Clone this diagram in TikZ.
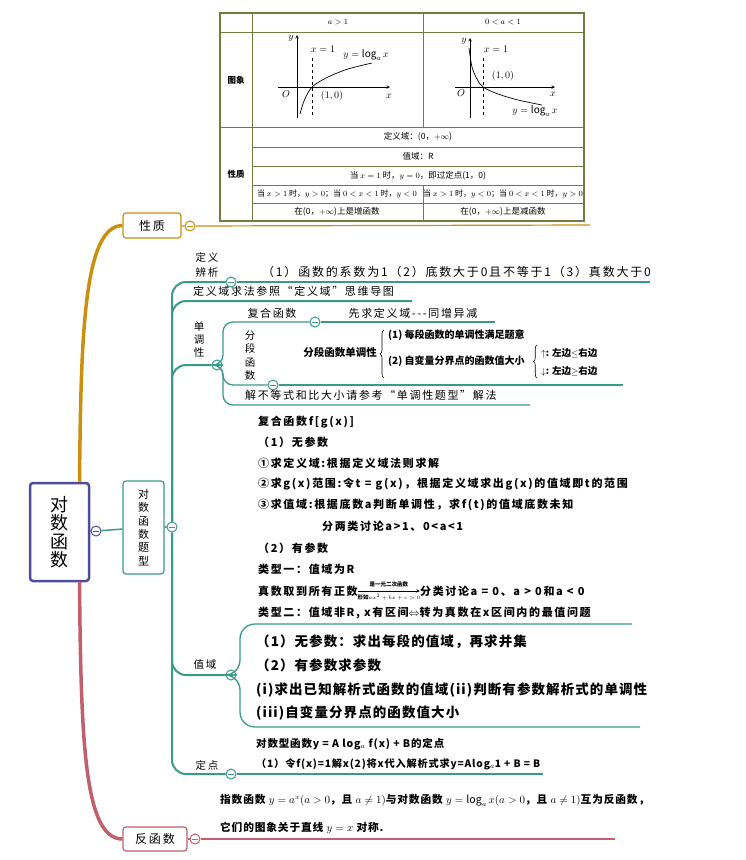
\documentclass[tikz,border=0pt]{standalone}
\usepackage{amsmath}
\usepackage{fontspec}
\setmainfont{Noto Sans CJK SC}
\newfontfamily\kai[LetterSpace=15]{Noto Sans CJK SC}
\newfontfamily\kaib[LetterSpace=8]{Noto Sans CJK SC}
\usetikzlibrary{arrows}
\usetikzlibrary{positioning}
\usetikzlibrary{decorations.pathreplacing}

\definecolor{tealb}{HTML}{3A9A8A}
\definecolor{goldb}{HTML}{C8900E}
\definecolor{redb}{HTML}{C0606C}
\definecolor{blueb}{HTML}{4E4E98}
\definecolor{gridc}{HTML}{6E7E40}

\tikzset{
  fold/.style={circle, draw=#1, fill=white, line width=1pt, minimum size=10pt, inner sep=0pt,
    path picture={\draw[#1, line width=1pt] ([xshift=-2.8pt]path picture bounding box.center) -- ([xshift=2.8pt]path picture bounding box.center);}},
  topicbox/.style={draw=#1, line width=1.2pt, rounded corners=3pt, fill=white, inner sep=0pt, align=center},
  branch/.style={tealb, line width=2pt, rounded corners=14pt},
  twig/.style={tealb, line width=1.3pt, rounded corners=10pt},
  tabtext/.style={font=\fontsize{8.5}{9}\selectfont, inner sep=0pt},
  leafnote/.style={anchor=west, inner sep=0pt, font=\kai\fontsize{11}{12}\selectfont},
  leafbold/.style={anchor=west, inner sep=0pt, font=\kai\bfseries\fontsize{11}{12}\selectfont},
}

\begin{document}
\begin{tikzpicture}[x=1pt, y=-1pt]
\useasboundingbox (0,0) rectangle (745,860);

% table of the two graphs
\draw[gridc, line width=1.2pt] (220,13) rectangle (584,221);
\begin{scope}[gridc, line width=0.7pt]
  \draw (220,32) -- (584,32);
  \draw (220,127) -- (584,127);
  \foreach \yy in {147,166,185,203} {\draw (252,\yy) -- (584,\yy);}
  \draw (252,13) -- (252,221);
  \draw (423,13) -- (423,127);
  \draw (423,185) -- (423,221);
\end{scope}
\node[tabtext] (hdA) at (338,22) {$a>1$};
\node[tabtext] (hdB) at (503,22) {$0<a<1$};
\node[tabtext, font=\bfseries\fontsize{8.5}{9}\selectfont] (rowImg) at (236,80) {图象};
\node[tabtext, font=\bfseries\fontsize{8.5}{9}\selectfont] (rowProp) at (236,174) {性质};
\node[tabtext] (pDom) at (418,137) {定义域：(0，$+\infty$)};
\node[tabtext] (pRan) at (418,156.5) {值域：R};
\node[tabtext] (pFix) at (418,175.5) {当 $x=1$ 时，$y=0$，即过定点(1，0)};
\node[tabtext, font=\fontsize{8}{9}\selectfont] (pSignA) at (337,194) {当 $x>1$ 时，$y>0$；当 $0<x<1$ 时，$y<0$};
\node[tabtext, font=\fontsize{8}{9}\selectfont] (pSignB) at (503,194) {当 $x>1$ 时，$y<0$；当 $0<x<1$ 时，$y>0$};
\node[tabtext] (pMonA) at (337,212) {在(0，$+\infty$)上是增函数};
\node[tabtext] (pMonB) at (503,212) {在(0，$+\infty$)上是减函数};

% graph a>1
\draw[->, >=stealth, line width=0.6pt] (297,118) -- (297,35);
\draw[->, >=stealth, line width=0.6pt] (278,87) -- (390,87);
\draw[dashed, line width=0.6pt] (312,58) -- (312,118);
\draw[line width=0.7pt] plot[smooth] coordinates {(300,114) (304,101) (312,87) (328,77) (348,69) (372,63)};
\node (gAy) at (291,38) {$y$};
\node (gAx) at (389,96) {$x$};
\node (gAo) at (286,94) {$O$};
\node (gAl) at (323,49) {$x=1$};
\node (gAf) at (366,55) {$y=\log_a x$};
\node (gAp) at (332,96) {$(1,0)$};

% graph 0<a<1
\draw[->, >=stealth, line width=0.6pt] (470,118) -- (470,38);
\draw[->, >=stealth, line width=0.6pt] (455,87) -- (555,87);
\draw[dashed, line width=0.6pt] (483,58) -- (483,118);
\draw[line width=0.7pt] plot[smooth] coordinates {(469,48) (472,67) (477,79) (483,87) (498,94) (518,100) (542,105)};
\node (gBy) at (464,41) {$y$};
\node (gBx) at (553,94) {$x$};
\node (gBo) at (461,93) {$O$};
\node (gBl) at (496,49) {$x=1$};
\node (gBf) at (535,111) {$y=\log_a x$};
\node (gBp) at (503,76) {$(1,0)$};

% main topics
\node[topicbox=blueb, line width=2.5pt, minimum width=59pt, minimum height=98pt,
      font=\fontsize{18}{18.5}\selectfont] (root) at (59.5,532) {对\\数\\函\\数};
\node[fold=blueb] (rootFold) at (96,531) {};
\node[topicbox=tealb, minimum width=41pt, minimum height=93pt,
      font=\fontsize{11}{13.4}\selectfont] (tiBox) at (143.5,527.5) {对\\数\\函\\数\\题\\型};
\node[fold=tealb] (tiFold) at (172,527) {};
\node[topicbox=goldb, minimum width=58pt, minimum height=25pt,
      font=\kai\fontsize{12}{12}\selectfont] (xzBox) at (152,225.5) {性质};
\node[fold=goldb] (xzFold) at (190,226) {};
\node[topicbox=redb, minimum width=64pt, minimum height=24pt,
      font=\kai\fontsize{12}{12}\selectfont] (ffBox) at (155,839) {反函数};
\node[fold=redb] (ffFold) at (195,839) {};
\coordinate (xzEnd) at (590,225);
\coordinate (ffEnd) at (615,839);

\draw[blueb, line width=1.5pt] (root) -- (rootFold);
\draw[tealb, line width=1.5pt] (rootFold) -- (tiBox);
\draw[goldb, line width=3.5pt] ([xshift=20pt]root.north) .. controls (81,340) and (83,226) .. (xzBox.west);
\draw[goldb, line width=1.2pt] (xzBox) -- (xzFold);
\draw[goldb, line width=1.2pt] (xzFold) -- (xzEnd);
\draw[redb, line width=3.5pt] ([xshift=20pt]root.south) .. controls (81,740) and (84,839) .. (ffBox.west);
\draw[redb, line width=1.2pt] (ffBox) -- (ffFold);
\draw[redb, line width=1.2pt] (ffFold) -- (ffEnd);
\draw[tealb, line width=2pt] (tiBox) -- (tiFold);

% teal branches
\node[fold=tealb] (dyFold) at (231,282) {};
\node[fold=tealb] (ddFold) at (217,365) {};
\node[fold=tealb] (zyFold) at (231,675) {};
\node[fold=tealb] (djFold) at (231,774) {};
\node[fold=tealb] (fhFold) at (315,322) {};
\node[fold=tealb] (fdFold) at (273,385) {};
\coordinate (dyEnd) at (650,282);
\coordinate (dfEnd) at (412,301);
\coordinate (djEnd) at (543,774);
\coordinate (fhEnd) at (495,322);
\coordinate (fdEnd) at (623,385);
\coordinate (jbEnd) at (530,405);
\coordinate (zyTop) at (632,624);
\coordinate (zyBot) at (640,727);

\draw[branch] (tiFold) |- (dyFold);
\draw[tealb, line width=1.3pt] (dyFold) -- (dyEnd);
\draw[branch] (tiFold) |- (dfEnd);
\draw[branch] (tiFold) |- (ddFold);
\draw[branch] (tiFold) |- (zyFold);
\draw[branch] (tiFold) |- (djFold);
\draw[tealb, line width=1.3pt] (djFold) -- (djEnd);

\draw[twig] (ddFold) -- ++(6,0) |- (fhFold);
\draw[tealb, line width=1.3pt] (fhFold) -- (fhEnd);
\draw[twig] (ddFold) -- ++(6,0) |- (fdFold);
\draw[tealb, line width=1.3pt] (fdFold) -- (fdEnd);
\draw[twig] (ddFold) -- ++(6,0) |- (jbEnd);
\draw[twig, rounded corners=15pt] (zyFold) -- ++(9,0) |- (zyTop);
\draw[twig, rounded corners=15pt] (zyFold) -- ++(9,0) |- (zyBot);

% definition
\node[font=\kai\fontsize{10.5}{15}\selectfont, align=center, inner sep=0pt] (dyLabel) at (207,264.5) {定义\\辨析};
\node[leafnote, font=\kai\fontsize{12}{12}\selectfont] (dyText) at (262,272) {（1）函数的系数为1（2）底数大于0且不等于1（3）真数大于0};
\node[leafnote] (dfText) at (193,291.5) {定义域求法参照“定义域”思维导图};

% monotonicity
\node[font=\kai\fontsize{10.5}{13}\selectfont, align=center, inner sep=0pt] (ddLabel) at (199,340) {单\\调\\性};
\node[leafnote, anchor=center] (fhLabel) at (272,313) {复合函数};
\node[leafnote, anchor=center] (fhText) at (413,313) {先求定义域-{}-{}-同增异减};
\node[font=\kai\fontsize{10.5}{13.5}\selectfont, align=center, inner sep=0pt] (fdLabel) at (250,355.5) {分\\段\\函\\数};
\node[font=\bfseries\fontsize{10.5}{12}\selectfont, inner sep=0pt] (fdTitle) at (340,352) {分段函数单调性};
\draw[decorate, decoration={brace, amplitude=4pt}, line width=0.6pt] (384,378) -- (384,330);
\node[anchor=west, inner sep=0pt, font=\bfseries\fontsize{10}{12}\selectfont] (fdOne) at (388,335) {(1) 每段函数的单调性满足题意};
\node[anchor=west, inner sep=0pt, font=\bfseries\fontsize{10}{12}\selectfont] (fdTwo) at (388,361) {(2) 自变量分界点的函数值大小};
\draw[decorate, decoration={brace, amplitude=3.5pt}, line width=0.6pt] (537,378) -- (537,345);
\node[anchor=west, inner sep=0pt, font=\bfseries\fontsize{9.5}{12}\selectfont] (upNote) at (541,353) {$\uparrow$: 左边$\le$右边};
\node[anchor=west, inner sep=0pt, font=\bfseries\fontsize{9.5}{12}\selectfont] (downNote) at (541,371) {$\downarrow$: 左边$\ge$右边};
\node[leafnote] (jbText) at (245,395) {解不等式和比大小请参考“单调性题型”解法};

% composite functions
\node[leafbold] (tbHead) at (258,422) {复合函数f[g(x)]};
\node[leafbold] (tbOne) at (258,442) {（1）无参数};
\node[leafbold] (tbStepA) at (258,463) {①求定义域:根据定义域法则求解};
\node[leafbold] (tbStepB) at (258,484) {②求g(x)范围:令t = g(x)，根据定义域求出g(x)的值域即t的范围};
\node[leafbold] (tbStepC) at (258,505) {③求值域:根据底数a判断单调性，求f(t)的值域底数未知};
\node[leafbold] (tbCase) at (322,526) {分两类讨论a>1、0<a<1};
\node[leafbold] (tbTwo) at (258,548) {（2）有参数};
\node[leafbold] (tbTypeA) at (258,569) {类型一：值域为R};
\node[leafbold] (tbReal) at (258,591) {真数取到所有正数};
\node[leafbold, right=62pt of tbReal] (tbCls) {分类讨论a = 0、a > 0和a < 0};
\draw[->, >=stealth, line width=0.6pt] (tbReal) -- (tbCls)
  node[midway, above=0pt, font=\bfseries\fontsize{5.5}{6}\selectfont] (arUp) {是一元二次函数}
  node[midway, below=0pt, font=\bfseries\fontsize{5.5}{6}\selectfont] (arDown) {形如$ax^2+bx+c>0$};
\node[leafbold] (tbTypeB) at (258,613) {类型二：值域非R, x有区间$\Leftrightarrow$转为真数在x区间内的最值问题};

% range
\node[font=\kai\fontsize{10.5}{12}\selectfont, inner sep=0pt] (zyLabel) at (205,665) {值域};
\node[anchor=west, inner sep=0pt, font=\kaib\bfseries\fontsize{13.5}{14}\selectfont] (zyOne) at (256,642) {（1）无参数：求出每段的值域，再求并集};
\node[anchor=west, inner sep=0pt, font=\kaib\bfseries\fontsize{13.5}{14}\selectfont] (zyTwo) at (256,665) {（2）有参数求参数};
\node[anchor=west, inner sep=0pt, font=\kaib\bfseries\fontsize{13.5}{14}\selectfont] (zyThree) at (256,690) {(i)求出已知解析式函数的值域(ii)判断有参数解析式的单调性};
\node[anchor=west, inner sep=0pt, font=\kaib\bfseries\fontsize{13.5}{14}\selectfont] (zyFour) at (256,713) {(iii)自变量分界点的函数值大小};

% fixed point
\node[font=\kai\fontsize{10.5}{12}\selectfont, inner sep=0pt] (djLabel) at (207,765) {定点};
\node[anchor=west, inner sep=0pt, font=\kaib\bfseries\fontsize{10.5}{12}\selectfont] (djHead) at (256,744) {对数型函数y = A log$_{a}$ f(x) + B的定点};
\node[anchor=west, inner sep=0pt, font=\kaib\bfseries\fontsize{10.2}{12}\selectfont] (djStep) at (256,764) {（1）令f(x)=1解x(2)将x代入解析式求y=Alog$_{a}$1 + B = B};

% inverse function
\node[anchor=west, inner sep=0pt, font=\kaib\bfseries\fontsize{10.7}{12}\selectfont] (ffTextA) at (220,800) {指数函数 $y=a^x(a>0$，且 $a\neq1)$与对数函数 $y=\log_a x(a>0$，且 $a\neq1)$互为反函数，};
\node[anchor=west, inner sep=0pt, font=\kaib\bfseries\fontsize{10.7}{12}\selectfont] (ffTextB) at (220,828) {它们的图象关于直线 $y=x$ 对称.};
\end{tikzpicture}
\end{document}
